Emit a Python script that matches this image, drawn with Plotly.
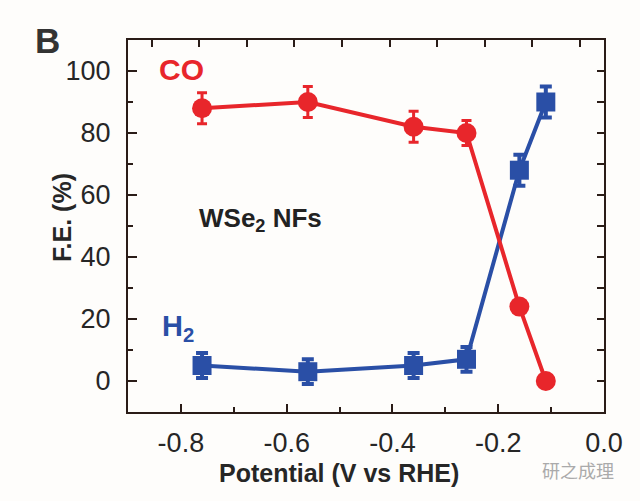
import plotly.graph_objects as go

# Data
potential = [-0.76, -0.56, -0.36, -0.26, -0.16, -0.11]
fe_co = [88, 90, 82, 80, 24, 0]
fe_co_err = [5, 5, 5, 4, 2, 1]
fe_h2 = [5, 3, 5, 7, 68, 90]
fe_h2_err = [4, 4, 4, 4, 5, 5]

x_ticks = [-0.8, -0.6, -0.4, -0.2, 0.0]
x_ticklabels = ["-0.8", "-0.6", "-0.4", "-0.2", "0.0"]
y_ticks = [0, 20, 40, 60, 80, 100]

RED = "#e8262b"
BLUE = "#2a4fa6"
AXC = "#2a1c17"
TXT = "#262626"
FONT = "Liberation Sans, Arial, sans-serif"

fig = go.Figure()
fig.add_trace(go.Scatter(
    x=potential, y=fe_h2, mode="lines+markers",
    line=dict(color=BLUE, width=4),
    marker=dict(symbol="square", size=19, color=BLUE),
    error_y=dict(type="data", array=fe_h2_err, color=BLUE, thickness=4, width=6),
    showlegend=False, cliponaxis=False))
fig.add_trace(go.Scatter(
    x=potential, y=fe_co, mode="lines+markers",
    line=dict(color=RED, width=4),
    marker=dict(symbol="circle", size=20, color=RED),
    error_y=dict(type="data", array=fe_co_err, color=RED, thickness=3, width=5),
    showlegend=False, cliponaxis=False))
# invisible helper trace so the top/right frame axes are drawn
fig.add_trace(go.Scatter(x=[0], y=[0], xaxis="x2", yaxis="y2", mode="markers",
                         marker=dict(opacity=0), hoverinfo="skip", showlegend=False))

fig.update_layout(
    width=640, height=501,
    margin=dict(l=128, r=36, t=40, b=89),
    paper_bgcolor="#fefdfb", plot_bgcolor="#fefdfb",
    font=dict(family=FONT, color=TXT),
    xaxis=dict(range=[-0.9, 0.0], tickvals=x_ticks, ticktext=x_ticklabels,
               ticks="inside", ticklen=8, tickwidth=2, tickcolor=AXC,
               showline=True, linecolor=AXC, linewidth=2, mirror=False,
               showgrid=False, zeroline=False, ticklabelstandoff=6,
               tickfont=dict(size=27, family=FONT, color=TXT),
               minor=dict(dtick=0.1, tick0=-0.9, ticks="inside", ticklen=5, tickwidth=2, tickcolor=AXC)),
    yaxis=dict(range=[-10, 110], tickvals=y_ticks,
               ticks="inside", ticklen=9, tickwidth=2, tickcolor=AXC,
               showline=True, linecolor=AXC, linewidth=2, mirror=False,
               showgrid=False, zeroline=False, ticklabelstandoff=10,
               tickfont=dict(size=27, family=FONT, color=TXT),
               minor=dict(dtick=10, tick0=0, ticks="inside", ticklen=5, tickwidth=2, tickcolor=AXC)),
    xaxis2=dict(overlaying="x", side="top", range=[0, 476],
                tickvals=[24, 71, 119, 166, 214, 262, 309, 357, 404, 452],
                showticklabels=False, ticks="inside", ticklen=7, tickwidth=2, tickcolor=AXC,
                showline=True, linecolor=AXC, linewidth=2, showgrid=False, zeroline=False),
    yaxis2=dict(overlaying="y", side="right", range=[-10, 110], dtick=10, tick0=0,
                showticklabels=False, ticks="inside", ticklen=7, tickwidth=2, tickcolor=AXC,
                showline=True, linecolor=AXC, linewidth=2, showgrid=False, zeroline=False),
)

ann = [
    dict(text="<b>B</b>", xref="paper", yref="paper", x=-0.170, y=1.0,
         font=dict(size=35, color="#333333")),
    dict(text="<b>CO</b>", xref="x", yref="y", x=-0.798, y=100.6,
         font=dict(size=30, color=RED)),
    dict(text="<b>WSe<sub>2</sub> NFs</b>", xref="x", yref="y", x=-0.770, y=52.0,
         xanchor="left", font=dict(size=26, color="#222222")),
    dict(text="<b>H<sub>2</sub></b>", xref="x", yref="y", x=-0.840, y=17.0,
         xanchor="left", font=dict(size=29, color=BLUE)),
    dict(text="<b>F.E. (%)</b>", xref="paper", yref="paper", x=-0.139, y=0.524,
         textangle=-90, font=dict(size=25, color=TXT)),
    dict(text="<b>Potential (V vs RHE)</b>", xref="paper", yref="paper", x=0.443, y=-0.164,
         font=dict(size=25, color=TXT)),
    dict(text="研之成理", xref="paper", yref="paper", x=0.945, y=-0.156,
         font=dict(size=18, color="#aaaaaa", family="Noto Sans CJK SC")),
]
for a in ann:
    a.setdefault("showarrow", False)
    a.setdefault("xanchor", "center")
    a.setdefault("yanchor", "middle")
fig.update_layout(annotations=ann)

fig.write_html("out.html", config={"displayModeBar": False})

# remove the default 8px page margin so the figure sits at the window origin
with open("out.html", encoding="utf-8") as f:
    html = f.read()
html = html.replace("<body>", '<body style="margin:0;padding:0;">', 1)
with open("out.html", "w", encoding="utf-8") as f:
    f.write(html)
